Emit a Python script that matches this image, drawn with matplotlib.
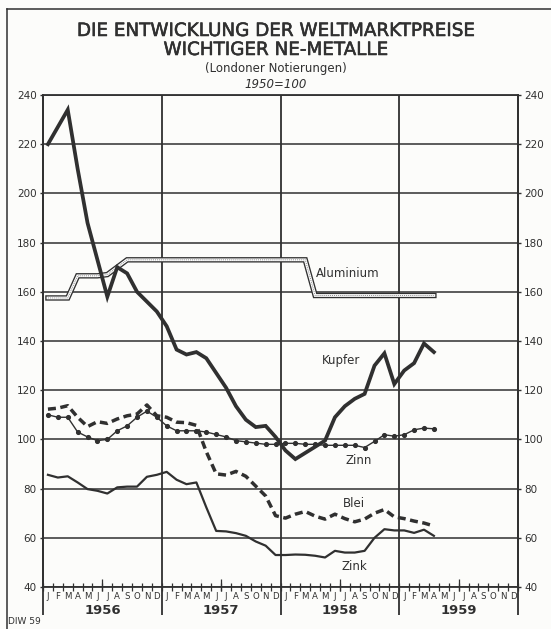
import matplotlib
matplotlib.use('Agg')
import matplotlib.pyplot as plt
import matplotlib.patheffects as pe
from matplotlib.lines import Line2D
from matplotlib.transforms import blended_transform_factory

# ---------------- data (1950 = 100), monthly Jan 1956 .. Apr 1959 ----------------
years = ['1956', '1957', '1958', '1959']
month_letters = ['J', 'F', 'M', 'A', 'M', 'J', 'J', 'A', 'S', 'O', 'N', 'D']
y_ticks = [40, 60, 80, 100, 120, 140, 160, 180, 200, 220, 240]

kupfer = [220, 227, 234, 210, 188, 173, 158, 170, 167.5, 160, 156, 152,
          146, 136.5, 134.5, 135.5, 133, 127, 121, 113.5, 108, 105, 105.5, 101,
          95.5, 92, 94.5, 97, 99.5, 109, 113.5, 116.5, 118.5, 130, 135, 122.5,
          128, 131, 139, 135.5]

aluminium = [157.5, 157.5, 157.5, 166.5, 166.5, 166.5, 167, 170, 173, 173, 173, 173,
             173, 173, 173, 173, 173, 173, 173, 173, 173, 173, 173, 173,
             173, 173, 173, 158.5, 158.5, 158.5, 158.5, 158.5, 158.5, 158.5, 158.5, 158.5,
             158.5, 158.5, 158.5, 158.5]

zinn = [110, 109, 109, 103, 101, 99.5, 100, 103.5, 105.5, 109, 111.5, 109,
        105.5, 103.5, 103.5, 103.5, 103, 102, 101, 99.5, 99, 98.5, 98, 98,
        98.4, 98.4, 98, 98, 97.6, 97.6, 97.6, 97.6, 96.7, 99.2, 101.9, 101.3,
        101.9, 103.9, 104.6, 104.3]

blei = [112.3, 112.7, 113.7, 109, 105.2, 107.2, 106.5, 108.3, 109.6, 110.3, 114, 109.6,
        109, 107, 106.8, 105.7, 95, 86, 85.5, 87, 85, 81, 77, 69,
        68, 69.6, 70.7, 68.8, 67.6, 69.6, 67.8, 66.5, 67.6, 70, 71.5, 68.5,
        67.8, 66.8, 66, 64.8]

zink = [85.6, 84.5, 85, 82.5, 79.8, 79.1, 78, 80.5, 80.8, 80.8, 84.8, 85.6,
        86.8, 83.6, 81.8, 82.5, 72.4, 62.8, 62.6, 61.9, 60.8, 58.5, 56.8, 53,
        53, 53.2, 53.1, 52.7, 52, 54.7, 54, 54, 54.7, 60, 63.5, 63,
        63, 62, 63.3, 60.8]

# ---------------- style ----------------
ink = '#303030'
paper = '#fcfcfa'
plt.rcParams['font.family'] = ['DejaVu Sans']

fig = plt.figure(figsize=(5.51, 6.29), dpi=100)
fig.patch.set_facecolor(paper)
ax = fig.add_axes([43 / 551, 1 - 587 / 629, 475 / 551, 492 / 629])
ax.set_facecolor(paper)

n_months = 12 * len(years)
ax.set_xlim(0, n_months)
ax.set_ylim(40, 240)

# grid
ax.set_yticks(y_ticks)
ax.yaxis.grid(True, color=ink, lw=1.1)
ax.set_axisbelow(True)
ax.vlines([12 * i for i in range(len(years) + 1)], 28.5, 240, color=ink, lw=1.3,
          clip_on=False, zorder=1)
for s in ax.spines.values():
    s.set_color(ink)
    s.set_linewidth(1.3)

# y tick labels both sides
ax.tick_params(axis='y', which='both', left=True, right=True, labelleft=True,
               labelright=True, length=2.5, width=1, color=ink, labelsize=7.5,
               labelcolor=ink, pad=2)

# x ticks: month letters at centers, small cross ticks at month boundaries
centers = [m + 0.5 for m in range(n_months)]
ax.set_xticks(centers, labels=month_letters * len(years))
ax.tick_params(axis='x', which='major', length=0, labelsize=6.2, pad=3.5,
               labelcolor=ink)
ax.set_xticks(list(range(n_months + 1)), minor=True)
ax.tick_params(axis='x', which='minor', direction='inout', length=6, width=0.9,
               color=ink)
ax.vlines([12 * i + 6 for i in range(len(years))], 38.4, 43.3, color=ink, lw=0.9,
          clip_on=False)

btrans = blended_transform_factory(ax.transData, ax.transAxes)
for i, yr in enumerate(years):
    ax.text(12 * i + 6, -0.047, yr, transform=btrans, ha='center', va='center',
            fontsize=9.5, fontweight='bold', color=ink)

# ---------------- series ----------------
xs = [m + 0.5 for m in range(len(kupfer))]

ax.plot(xs, aluminium, color=ink, lw=3.9, solid_joinstyle='miter', zorder=3)
ax.plot(xs, aluminium, color='white', lw=2.0, solid_joinstyle='miter', zorder=3)
ax.plot(xs, aluminium, color='#8a8a8a', lw=0.7, ls=(0, (1, 1)), zorder=3)

ax.plot(xs, zinn, color=ink, lw=1.0, marker='o', markersize=2.7, zorder=4)
ax.plot(xs, blei, color=ink, lw=2.5, ls=(0, (2.3, 1.3)), zorder=4)
ax.plot(xs, zink, color=ink, lw=1.6, zorder=4)
ax.plot(xs, kupfer, color=ink, lw=2.7, solid_joinstyle='miter', zorder=5)

lab = dict(fontsize=8.5, color=ink, va='center', ha='left')
ax.text(27.6, 167.5, 'Aluminium', **lab)
ax.text(28.2, 132, 'Kupfer', **lab)
ax.text(30.6, 91.6, 'Zinn', **lab)
ax.text(30.3, 74, 'Blei', **lab)
ax.text(30.2, 48.5, 'Zink', **lab)

# ---------------- titles ----------------
stroke = [pe.withStroke(linewidth=0.4, foreground=ink)]
fig.text(0.5, 1 - 31 / 629, 'DIE ENTWICKLUNG DER WELTMARKTPREISE', ha='center',
         va='center', fontsize=13.2, color=ink, path_effects=stroke)
fig.text(0.5, 1 - 50 / 629, 'WICHTIGER NE-METALLE', ha='center', va='center',
         fontsize=13.2, color=ink, path_effects=stroke)
fig.text(0.5, 1 - 68.5 / 629, '(Londoner Notierungen)', ha='center', va='center',
         fontsize=8.5, color=ink)
fig.text(0.5, 1 - 85 / 629, '1950=100', ha='center', va='center', fontsize=8.5,
         style='italic', color=ink)
fig.text(8 / 551, 1 - 621 / 629, 'DIW 59', ha='left', va='center', fontsize=6.5,
         color=ink)

# page frame (left and top)
fig.add_artist(Line2D([6.5 / 551, 6.5 / 551], [0, 1 - 8.5 / 629],
                      transform=fig.transFigure, color=ink, lw=1.1))
fig.add_artist(Line2D([6.5 / 551, 1], [1 - 8.5 / 629, 1 - 8.5 / 629],
                      transform=fig.transFigure, color=ink, lw=1.1))

fig.savefig('out.png', dpi=100, facecolor=paper)
